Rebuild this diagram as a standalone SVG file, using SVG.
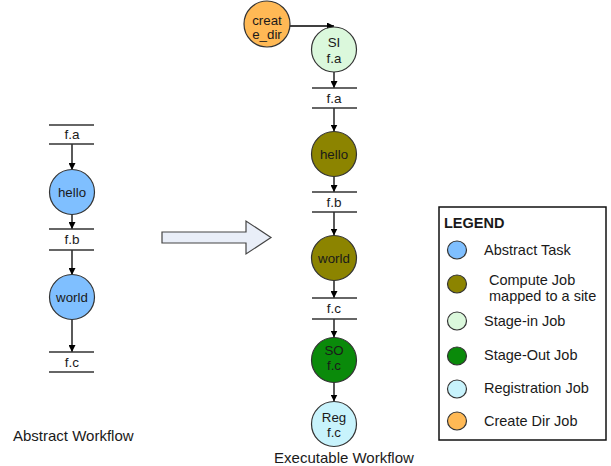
<svg xmlns="http://www.w3.org/2000/svg" width="611" height="466" viewBox="0 0 611 466">
<defs>
<marker id="ah" viewBox="0 0 10 10" refX="10" refY="5" markerWidth="7" markerHeight="7" markerUnits="userSpaceOnUse" orient="auto">
<path d="M0,0 L10,5 L0,10 z" fill="#000"/>
</marker>
<style>
text{font-family:"Liberation Sans",Arial,sans-serif;fill:#1a1a1a}
.n{font-size:13.3px;text-anchor:middle}
.f{font-size:13.5px;text-anchor:middle}
.cap{font-size:15px}
.lg{font-size:14.5px}
.node{stroke:#333;stroke-width:1.2}
.fl{stroke:#333;stroke-width:1.5}
.e{stroke:#000;stroke-width:1.3;fill:none;marker-end:url(#ah)}
.abs{fill:#7fbfff}
.cmp{fill:#8c8400}
.si{fill:#dbf8dc}
.so{fill:#0a8a0a}
.reg{fill:#c8f3fc}
.cd{fill:#ffb955}
</style>
</defs>
<rect width="611" height="466" fill="#fff"/>

<g id="connectors">
<line class="e" x1="72" y1="144" x2="72" y2="170"/>
<line class="e" x1="72" y1="214" x2="72" y2="229"/>
<line class="e" x1="72" y1="250" x2="72" y2="275"/>
<line class="e" x1="72" y1="319" x2="72" y2="352"/>
<line class="e" x1="290" y1="26" x2="334" y2="26"/>
<line class="e" x1="334" y1="72" x2="334" y2="88"/>
<line class="e" x1="334" y1="108" x2="334" y2="131.5"/>
<line class="e" x1="334" y1="176.5" x2="334" y2="192"/>
<line class="e" x1="334" y1="212" x2="334" y2="235.5"/>
<line class="e" x1="334" y1="280.5" x2="334" y2="298"/>
<line class="e" x1="334" y1="319" x2="334" y2="337.5"/>
<line class="e" x1="334" y1="382.5" x2="334" y2="401.5"/>
</g>

<g id="abs-fa">
<line class="fl" x1="49" y1="125" x2="94" y2="125"/>
<line class="fl" x1="49" y1="144" x2="94" y2="144"/>
<text class="f" x="72" y="139">f.a</text>
</g>
<g id="abs-hello">
<circle class="node abs" cx="72" cy="192" r="22.5"/>
<text class="n" x="72" y="196.5">hello</text>
</g>
<g id="abs-fb">
<line class="fl" x1="49" y1="229" x2="94" y2="229"/>
<line class="fl" x1="49" y1="250" x2="94" y2="250"/>
<text class="f" x="72" y="244">f.b</text>
</g>
<g id="abs-world">
<circle class="node abs" cx="72" cy="297" r="22.5"/>
<text class="n" x="72" y="301.5">world</text>
</g>
<g id="abs-fc">
<line class="fl" x1="49" y1="352" x2="94" y2="352"/>
<line class="fl" x1="49" y1="372" x2="94" y2="372"/>
<text class="f" x="72" y="366.5">f.c</text>
</g>
<text class="cap" x="13" y="441">Abstract Workflow</text>

<g id="bigarrow">
<path d="M162,232 L246,232 L246,221 L271,237.5 L246,254 L246,243 L162,243 Z" fill="#e9eef8" stroke="#444" stroke-width="1.2"/>
</g>

<g id="create_dir">
<circle class="node cd" cx="267" cy="24" r="23"/>
<text class="n" x="267" y="24.5">creat</text>
<text class="n" x="267" y="39">e_dir</text>
</g>
<g id="si">
<circle class="node si" cx="334" cy="49.5" r="22.5"/>
<text class="n" x="334" y="47">SI</text>
<text class="n" x="334" y="63">f.a</text>
</g>
<g id="ex-fa">
<line class="fl" x1="312" y1="88" x2="357" y2="88"/>
<line class="fl" x1="312" y1="108" x2="357" y2="108"/>
<text class="f" x="334" y="103">f.a</text>
</g>
<g id="ex-hello">
<circle class="node cmp" cx="334" cy="154" r="22.5"/>
<text class="n" x="334" y="158.5">hello</text>
</g>
<g id="ex-fb">
<line class="fl" x1="312" y1="192" x2="357" y2="192"/>
<line class="fl" x1="312" y1="212" x2="357" y2="212"/>
<text class="f" x="334" y="207">f.b</text>
</g>
<g id="ex-world">
<circle class="node cmp" cx="334" cy="258" r="22.5"/>
<text class="n" x="334" y="262.5">world</text>
</g>
<g id="ex-fc">
<line class="fl" x1="312" y1="298" x2="357" y2="298"/>
<line class="fl" x1="312" y1="319" x2="357" y2="319"/>
<text class="f" x="334" y="313">f.c</text>
</g>
<g id="so">
<circle class="node so" cx="334" cy="360" r="22.5"/>
<text class="n" x="334" y="355">SO</text>
<text class="n" x="334" y="370">f.c</text>
</g>
<g id="reg">
<circle class="node reg" cx="334" cy="424" r="22.5"/>
<text class="n" x="334" y="422">Reg</text>
<text class="n" x="334" y="437">f.c</text>
</g>
<text class="cap" x="344" y="463" text-anchor="middle">Executable Workflow</text>

<g id="legend">
<rect x="439" y="207" width="167" height="233" fill="#fff" stroke="#111" stroke-width="1.5"/>
<text class="lg" x="444" y="228" font-weight="bold">LEGEND</text>
<ellipse class="node abs" cx="457" cy="250" rx="9.5" ry="9"/>
<text class="lg" x="484" y="255">Abstract Task</text>
<ellipse class="node cmp" cx="457" cy="284" rx="9.5" ry="9"/>
<text class="lg" x="489" y="285">Compute Job</text>
<text class="lg" x="489" y="301">mapped to a site</text>
<ellipse class="node si" cx="457" cy="321" rx="9.5" ry="9"/>
<text class="lg" x="484" y="326">Stage-in Job</text>
<ellipse class="node so" cx="457" cy="356" rx="9.5" ry="9"/>
<text class="lg" x="484" y="360">Stage-Out Job</text>
<ellipse class="node reg" cx="457" cy="389" rx="9.5" ry="9"/>
<text class="lg" x="484" y="393">Registration Job</text>
<ellipse class="node cd" cx="457" cy="421" rx="9.5" ry="9"/>
<text class="lg" x="484" y="426">Create Dir Job</text>
</g>
</svg>
